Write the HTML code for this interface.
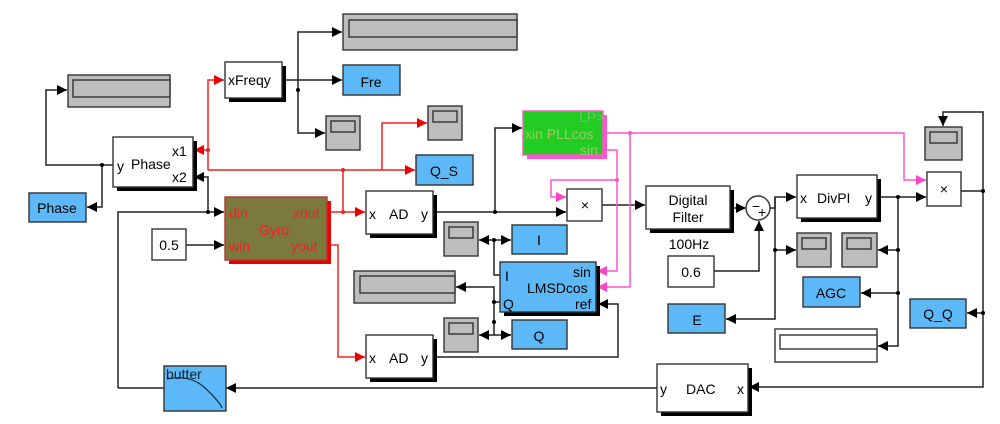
<!DOCTYPE html>
<html><head><meta charset="utf-8"><style>
html,body{margin:0;padding:0;background:#fff}
svg{display:block}
text{font-family:"Liberation Sans",sans-serif;font-size:14px;fill:#000}
</style></head><body>
<svg width="1000" height="424" viewBox="0 0 1000 424" xmlns="http://www.w3.org/2000/svg">
<defs>
<marker id="a" viewBox="0 0 10 10" refX="10" refY="5" markerWidth="10" markerHeight="10" markerUnits="userSpaceOnUse" orient="auto"><path d="M0,0L10,5L0,10z" fill="#000"/></marker>
<marker id="r" viewBox="0 0 10 10" refX="10" refY="5" markerWidth="10" markerHeight="10" markerUnits="userSpaceOnUse" orient="auto"><path d="M0,0L10,5L0,10z" fill="#e00"/></marker>
<marker id="m" viewBox="0 0 10 10" refX="10" refY="5" markerWidth="10" markerHeight="10" markerUnits="userSpaceOnUse" orient="auto"><path d="M0,0L10,5L0,10z" fill="#f4c"/></marker>
</defs>
<g fill="none" stroke-width="1.5">
<g stroke="#222">
<path d="M113,165H46V90H67" marker-end="url(#a)"/>
<path d="M102,165V207H87" marker-end="url(#a)"/>
<path d="M282,80H342" marker-end="url(#a)"/>
<path d="M298,80V32H342" marker-end="url(#a)"/>
<path d="M298,80V133H325" marker-end="url(#a)"/>
<path d="M118,388V212H224" marker-end="url(#a)"/>
<path d="M208,212V177H194" marker-end="url(#a)"/>
<path d="M164,388H118"/>
<path d="M657,388H226" marker-end="url(#a)"/>
<path d="M186,245H224" marker-end="url(#a)"/>
<path d="M433,212H566" marker-end="url(#a)"/>
<path d="M495,212V128H522" marker-end="url(#a)"/>
<path d="M602,205H645" marker-end="url(#a)"/>
<path d="M730,208H746" marker-end="url(#a)"/>
<path d="M770,208H775V197H796" marker-end="url(#a)"/>
<path d="M775,197V319H726" marker-end="url(#a)"/>
<path d="M775,250H796" marker-end="url(#a)"/>
<path d="M714,271H759V221" marker-end="url(#a)"/>
<path d="M877,197H926" marker-end="url(#a)"/>
<path d="M898,197V346H878" marker-end="url(#a)"/>
<path d="M898,250H878" marker-end="url(#a)"/>
<path d="M898,293H861" marker-end="url(#a)"/>
<path d="M961,191H983V387H749" marker-end="url(#a)"/>
<path d="M983,191V112H943V126" marker-end="url(#a)"/>
<path d="M983,313H967" marker-end="url(#a)"/>
<path d="M500,275H494V240H479" marker-end="url(#a)"/>
<path d="M494,240H511" marker-end="url(#a)"/>
<path d="M500,302H494V287H456" marker-end="url(#a)"/>
<path d="M494,302V335H479" marker-end="url(#a)"/>
<path d="M494,335H511" marker-end="url(#a)"/>
<path d="M433,357H618V304H598" marker-end="url(#a)"/>
</g>
<g stroke="#e22">
<path d="M327,212H365" marker-end="url(#r)"/>
<path d="M343,212V170H415" marker-end="url(#r)"/>
<path d="M208,170H343"/>
<path d="M208,170V80H224" marker-end="url(#r)"/>
<path d="M208,150H194" marker-end="url(#r)"/>
<path d="M382,170V123H427" marker-end="url(#r)"/>
<path d="M327,245H338V357H365" marker-end="url(#r)"/>
</g>
<g stroke="#f5c">
<path d="M603,133H904V180H926" marker-end="url(#m)"/>
<path d="M630,133V287H597" marker-end="url(#m)"/>
<path d="M603,150H617V271H597" marker-end="url(#m)"/>
<path d="M617,180H551V197H566" marker-end="url(#m)"/>
</g>
</g>
<g fill="#000">
<circle cx="102" cy="165" r="2"/><circle cx="298" cy="90" r="2"/><circle cx="208" cy="212" r="2"/>
<circle cx="495" cy="212" r="2"/><circle cx="775" cy="250" r="2"/><circle cx="898" cy="197" r="2"/>
<circle cx="898" cy="250" r="2"/><circle cx="898" cy="293" r="2"/><circle cx="983" cy="191" r="2"/>
<circle cx="983" cy="313" r="2"/><circle cx="494" cy="240" r="2"/><circle cx="494" cy="302" r="2"/><circle cx="494" cy="322" r="2"/>
</g>
<g fill="#e22"><circle cx="343" cy="212" r="2"/><circle cx="343" cy="170" r="2"/><circle cx="208" cy="150" r="2"/></g>
<g fill="#f5c"><circle cx="630" cy="133" r="2"/><circle cx="617" cy="180" r="2"/></g>

<g stroke="#333" stroke-width="1.4">
<rect x="343" y="14" width="174" height="36" fill="#bdbdbd"/><rect x="349" y="20" width="168" height="17" fill="#bdbdbd"/>
<rect x="68" y="75" width="102" height="32" fill="#bdbdbd"/><rect x="73" y="80" width="97" height="17" fill="#bdbdbd"/>
<rect x="354" y="271" width="101" height="32" fill="#bdbdbd"/><rect x="360" y="276" width="95" height="17" fill="#bdbdbd"/>
<rect x="775" y="329" width="102" height="33" fill="#fff"/><rect x="780" y="335" width="97" height="14" fill="#fff"/>
<g fill="#bdbdbd">
<rect x="326" y="116" width="34" height="34"/><rect x="331" y="121" width="24" height="11"/>
<rect x="428" y="106" width="34" height="34"/><rect x="433" y="111" width="24" height="11"/>
<rect x="444" y="222" width="34" height="34"/><rect x="449" y="227" width="24" height="11"/>
<rect x="444" y="318" width="34" height="34"/><rect x="449" y="323" width="24" height="11"/>
<rect x="797" y="233" width="34" height="34"/><rect x="802" y="238" width="24" height="11"/>
<rect x="842" y="233" width="35" height="34"/><rect x="847" y="238" width="24" height="11"/>
<rect x="925" y="127" width="37" height="33"/><rect x="930" y="132" width="27" height="11"/>
</g>
<g fill="#000" stroke="none">
<rect x="229" y="66" width="57" height="36"/><rect x="117" y="141" width="80" height="50"/>
<rect x="370" y="195" width="67" height="43"/><rect x="370" y="339" width="67" height="43"/>
<rect x="650" y="190" width="84" height="43"/><rect x="801" y="179" width="80" height="43"/>
<rect x="661" y="368" width="91" height="48"/><rect x="504" y="266" width="96" height="50"/>
</g>
<rect x="229" y="201" width="102" height="63" fill="#e00" stroke="none"/>
<rect x="527" y="115" width="80" height="44" fill="#f5c" stroke="none"/>
<g fill="#fff">
<rect x="225" y="62" width="57" height="36"/><rect x="113" y="137" width="80" height="50"/>
<rect x="152" y="229" width="34" height="31"/><rect x="366" y="191" width="67" height="43"/>
<rect x="366" y="335" width="67" height="43"/><rect x="567" y="189" width="35" height="32"/>
<rect x="646" y="186" width="84" height="43"/><rect x="668" y="256" width="46" height="31"/>
<rect x="797" y="175" width="80" height="43"/><rect x="927" y="172" width="34" height="34"/>
<rect x="657" y="364" width="91" height="48"/>
</g>
<circle cx="758" cy="208" r="12" fill="#fff"/>
<g fill="#5cb8f6">
<rect x="343" y="65" width="57" height="30"/><rect x="29" y="193" width="57" height="29"/>
<rect x="416" y="155" width="57" height="30"/><rect x="512" y="225" width="55" height="29"/>
<rect x="512" y="320" width="55" height="29"/><rect x="500" y="262" width="96" height="50"/>
<rect x="668" y="304" width="57" height="29"/><rect x="803" y="277" width="57" height="30"/>
<rect x="910" y="299" width="56" height="29"/><rect x="164" y="366" width="62" height="45"/>
</g>
<rect x="225" y="197" width="102" height="63" fill="#7b7a3c" stroke="#b33"/>
<rect x="523" y="111" width="80" height="44" fill="#22cc22" stroke="#f5c"/>
</g>
<path d="M167,379Q190,374 205,388T222,408" fill="none" stroke="#134" stroke-width="1.2"/>

<text x="228" y="85" font-size="15">xFreqy</text>
<text x="371" y="87" text-anchor="middle" font-size="16">Fre</text>
<text x="57" y="213" text-anchor="middle" font-size="15">Phase</text>
<text x="117" y="171">y</text><text x="131" y="169" font-size="15">Phase</text>
<text x="172" y="156">x1</text><text x="172" y="182">x2</text>
<text x="444" y="176" text-anchor="middle" font-size="16">Q_S</text>
<text x="229" y="218" style="fill:#e22">din</text><text x="229" y="251" style="fill:#e22">win</text>
<text x="293" y="218" style="fill:#e22">xout</text><text x="291" y="251" style="fill:#e22">yout</text>
<text x="259" y="235" style="fill:#e22" font-size="15">Gyro</text>
<text x="169" y="250" text-anchor="middle" font-size="15">0.5</text>
<text x="369" y="219">x</text><text x="389" y="219" font-size="15">AD</text><text x="421" y="219">y</text>
<text x="369" y="363">x</text><text x="389" y="363" font-size="15">AD</text><text x="421" y="363">y</text>
<text x="539" y="245" text-anchor="middle" font-size="15">I</text>
<text x="539" y="341" text-anchor="middle" font-size="15">Q</text>
<text x="505" y="281">I</text><text x="527" y="293">LMSDcos</text><text x="573" y="277">sin</text>
<text x="503" y="309">Q</text><text x="575" y="309">ref</text>
<text x="579" y="122" style="fill:#6c6">LP&gt;</text><text x="525" y="139" style="fill:#9c6">xin PLLcos</text><text x="580" y="155" style="fill:#9c6">sin</text>
<text x="585" y="210" text-anchor="middle">×</text>
<text x="688" y="205" text-anchor="middle" font-size="15">Digital</text>
<text x="688" y="222" text-anchor="middle" font-size="15">Filter</text>
<text x="689" y="249" text-anchor="middle" font-size="15">100Hz</text>
<text x="691" y="277" text-anchor="middle" font-size="15">0.6</text>
<text x="697" y="325" text-anchor="middle" font-size="15">E</text>
<text x="752" y="211" font-size="9">−</text><text x="758" y="217" font-size="9">+</text>
<text x="800" y="203">x</text><text x="817" y="203" font-size="15">DivPI</text><text x="865" y="203">y</text>
<text x="831" y="298" text-anchor="middle" font-size="16">AGC</text>
<text x="938" y="319" text-anchor="middle" font-size="15">Q_Q</text>
<text x="944" y="194" text-anchor="middle">×</text>
<text x="660" y="394">y</text><text x="686" y="394" font-size="15">DAC</text><text x="737" y="394">x</text>
<text x="166" y="379" font-size="14" style="fill:#123">butter</text>
</svg>
</body></html>
